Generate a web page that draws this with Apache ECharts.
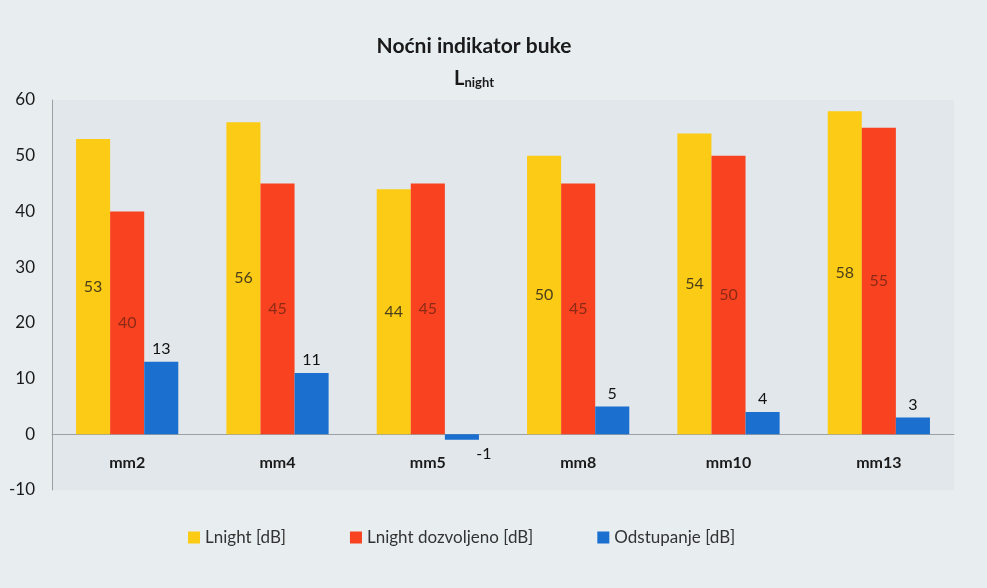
<!DOCTYPE html>
<html>
<head>
<meta charset="utf-8">
<script src="https://cdn.jsdelivr.net/npm/echarts@6/dist/echarts.min.js"></script>
<style>
  html, body { margin: 0; padding: 0; background: #e8eef0; }
  #main { width: 987px; height: 588px; }
</style>
</head>
<body>
<div id="main"></div>
<script>
  var categories = ['mm2', 'mm4', 'mm5', 'mm8', 'mm10', 'mm13']
  var lnight = [53, 56, 44, 50, 54, 58]
  var lnightAllowed = [40, 45, 45, 45, 50, 55]
  var deviation = [13, 11, -1, 5, 4, 3]
  var seriesNames = ['Lnight [dB]', 'Lnight dozvoljeno [dB]', 'Odstupanje [dB]']

  var font = 'Lato, "Open Sans", sans-serif'
  var myChart = echarts.init(document.getElementById('main'))

  var option = {
    backgroundColor: '#e8eef0',
    textStyle: { fontFamily: font },
    title: [
      {
        text: 'Noćni indikator buke',
        left: 469,
        top: 31,
        textAlign: 'center',
        textStyle: { fontSize: 21, fontWeight: 'bold', color: '#1a1a1a', fontFamily: font }
      },
      {
        text: '{l|L}{s|night}',
        left: 469,
        top: 61,
        textAlign: 'center',
        textStyle: {
          rich: {
            l: { fontSize: 20, fontWeight: 'bold', color: '#1a1a1a', fontFamily: font, verticalAlign: 'bottom' },
            s: { fontSize: 13, fontWeight: 'bold', color: '#1a1a1a', fontFamily: font, verticalAlign: 'bottom', padding: [10, 0, 0, 0] }
          }
        }
      }
    ],
    legend: {
      bottom: 37,
      left: 183,
      itemWidth: 12,
      itemHeight: 12,
      itemGap: 64,
      itemStyle: { borderWidth: 0 },
      icon: 'rect',
      textStyle: { fontSize: 17, color: '#333', fontFamily: font }
    },
    grid: {
      left: 52,
      right: 33,
      top: 100,
      bottom: 98,
      show: true,
      backgroundColor: '#e1e7ea',
      borderWidth: 0
    },
    xAxis: {
      type: 'category',
      data: categories,
      axisTick: { show: false },
      axisLine: { onZero: true, lineStyle: { color: '#9aa0a4', width: 1 } },
      axisLabel: { margin: -35, fontSize: 16, fontWeight: 'bold', color: '#1a1a1a' }
    },
    yAxis: {
      type: 'value',
      min: -10,
      max: 60,
      interval: 10,
      splitLine: { show: false },
      axisTick: { show: false },
      axisLine: { show: true, lineStyle: { color: '#9aa0a4', width: 1 } },
      axisLabel: { margin: 17, fontSize: 17, color: '#1a1a1a' }
    },
    series: [
      {
        name: seriesNames[0],
        type: 'bar',
        data: lnight,
        barGap: '0%',
        barCategoryGap: '32%',
        itemStyle: { color: '#fccb15' },
        label: { show: true, position: 'inside', fontSize: 16, color: '#4a3f1c' }
      },
      {
        name: seriesNames[1],
        type: 'bar',
        data: lnightAllowed,
        itemStyle: { color: '#f9421f' },
        label: { show: true, position: 'inside', fontSize: 16, color: '#8c2a18' }
      },
      {
        name: seriesNames[2],
        type: 'bar',
        data: deviation.map(function (v) {
          if (v < 0) {
            return { value: v, label: { position: 'bottom', distance: 6, offset: [22, 0] } }
          }
          return v
        }),
        itemStyle: { color: '#1b6fce' },
        label: { show: true, position: 'top', distance: 5, fontSize: 16, color: '#111' }
      }
    ]
  }

  myChart.setOption(option)
  window.addEventListener('resize', function () {
    myChart.resize()
  })
</script>
</body>
</html>
